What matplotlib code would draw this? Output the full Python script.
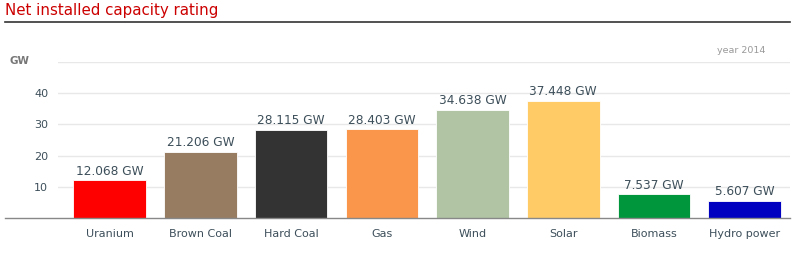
import matplotlib
matplotlib.use('Agg')
from matplotlib import pyplot as plt
from matplotlib.lines import Line2D

categories = ['Uranium', 'Brown Coal', 'Hard Coal', 'Gas', 'Wind', 'Solar', 'Biomass', 'Hydro power']
values = [12.068, 21.206, 28.115, 28.403, 34.638, 37.448, 7.537, 5.607]
colors = ['#ff0000', '#977c62', '#333333', '#f9964c', '#b1c4a4', '#fecb66', '#00963c', '#0000c0']
yticks = [10, 20, 30, 40]

W, H = 800, 261
fig = plt.figure(figsize=(W / 100, H / 100), dpi=100)

def fx(px):
    return px / W

def fy(py):
    return 1 - py / H

text_col = '#3d4f5a'

# axes: left 58px, right 790px, top 62px (=50), bottom 218px (=0)
ax = fig.add_axes([fx(58), fy(218), fx(790 - 58), (218 - 62) / H])
x = list(range(len(categories)))
ax.bar(x, values, width=0.8, color=colors, edgecolor='white', linewidth=0.6, zorder=3)
ax.set_xlim(-0.57, 7.5)
ax.set_ylim(0, 50)
ax.set_yticks(yticks + [50])
ax.set_yticklabels([str(t) for t in yticks] + [''])
ax.grid(axis='y', color='#e8e8e8', linewidth=1, zorder=0)
ax.set_xticks(x)
ax.set_xticklabels(categories)
ax.tick_params(axis='both', length=0, labelsize=8, colors=text_col)
ax.tick_params(axis='x', pad=8)
ax.tick_params(axis='y', pad=7)
for s in ax.spines.values():
    s.set_visible(False)

for xi, v in zip(x, values):
    ax.text(xi, v + 0.9, f'{v:.3f} GW', ha='center', va='bottom',
            fontsize=8.7, color=text_col)

# baseline extends to the left edge
fig.add_artist(Line2D([fx(5), fx(790)], [fy(218), fy(218)], color='#888888', linewidth=1))

# title and underline
fig.text(fx(5), fy(10), 'Net installed capacity rating', color='#cc0000',
         fontsize=10.8, ha='left', va='center')
fig.add_artist(Line2D([fx(5), fx(790)], [fy(21.5), fy(21.5)], color='#333333', linewidth=1.2))

fig.text(fx(10), fy(61), 'GW', color='#777777', fontsize=7.5, fontweight='bold', va='center')
fig.text(fx(765), fy(50), 'year 2014', color='#999999', fontsize=6.8, ha='right', va='center')

fig.savefig('out.png', dpi=100, facecolor='white')
